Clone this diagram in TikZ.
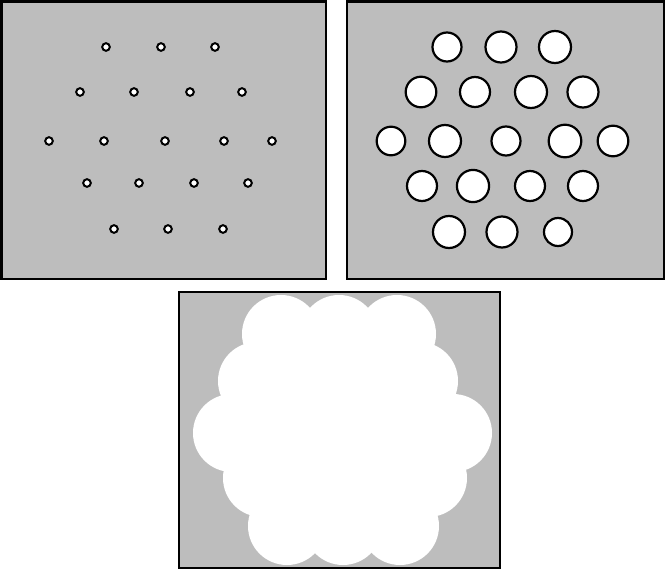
\documentclass[tikz,border=0pt]{standalone}
\usepackage{tikz}
\definecolor{plate}{gray}{0.74}

\begin{document}
\begin{tikzpicture}[x=1pt, y=-1pt,
  panel/.style={draw=black, line width=2.2pt, fill=plate},
  hole/.style={draw=black, line width=2pt, fill=white},
  lobe/.style={fill=white}
]
  \useasboundingbox (0,0) rectangle (665,571);

  % Top left: small holes
  \draw[panel] (1.5,1.5) rectangle (326,279);
  \foreach \x/\y in {106/47, 161/47, 215/47,
                     80/92, 134/92, 190/92, 242/92,
                     49/141, 104/141, 165/141, 224/141, 272/141,
                     87/183, 139/183, 194/183, 248/183,
                     114/229, 168/229, 223/229}
    \draw[hole] (\x,\y) circle[radius=3.8];

  % Top right: grown holes
  \draw[panel] (347,1.5) rectangle (664,279);
  \foreach \x/\y/\r in {447/47/14.5, 501/47/15.5, 555/47/16,
                        421/92/15.3, 475/92/15, 531/92/16, 583/92/15.5,
                        391/141/14.3, 445/141/16, 506/141/14.5, 565/141/16.3, 613/141/15.3,
                        422/186/15, 473/186/16.1, 530/186/15, 583/186/15,
                        449/232/16, 502/232/15.5, 558/232/14}
    \draw[hole, line width=2.2pt] (\x,\y) circle[radius=\r];

  % Bottom: merged holes
  \fill[plate] (179,292) rectangle (500,568);
  \begin{scope}
    \clip (179,292) rectangle (500,568);
    \foreach \x/\y in {281/334, 339/334, 397/334,
                       257/381, 311/381, 367/381, 419/381,
                       232/433, 287/433, 347/433, 405/433, 453/433,
                       262/478, 316/478, 371/478, 428/478,
                       287/526, 343/526, 400/526}
      \fill[lobe] (\x,\y) circle[radius=39];
  \end{scope}
  \draw[panel, fill=none] (179,292) rectangle (500,568);
\end{tikzpicture}
\end{document}
